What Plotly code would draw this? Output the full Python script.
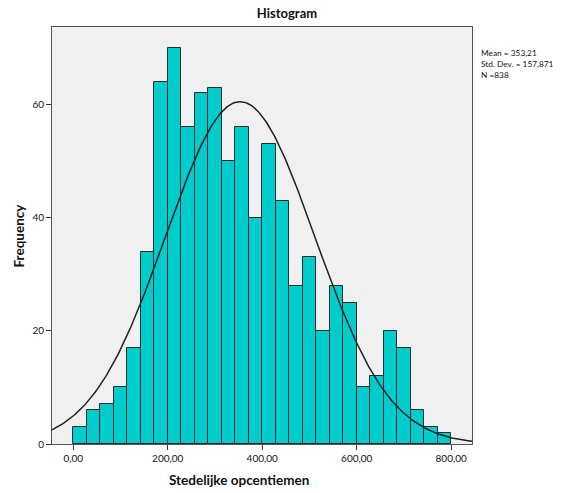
import numpy as np
import plotly.graph_objects as go

# Data
counts = [3, 6, 7, 10, 17, 34, 64, 70, 56, 62, 63, 50, 56, 40,
          53, 43, 28, 33, 20, 28, 25, 10, 12, 20, 17, 6, 3, 2]
bin_start = 0.0
bin_end = 800.0
mean_val = 353.21
std_val = 157.871
n_val = 838
x_ticks = [0, 200, 400, 600, 800]
x_tick_labels = ["0,00", "200,00", "400,00", "600,00", "800,00"]
y_ticks = [0, 20, 40, 60]

nb = len(counts)
bw = (bin_end - bin_start) / nb
centers = [bin_start + bw * (i + 0.5) for i in range(nb)]

xr = [-45, 844]
xs = np.linspace(xr[0], xr[1], 400)
ys = n_val * bw / (std_val * np.sqrt(2 * np.pi)) * np.exp(-0.5 * ((xs - mean_val) / std_val) ** 2)

fig = go.Figure()
fig.add_trace(go.Bar(x=centers, y=counts, width=bw,
                     marker=dict(color="#00CCCC", line=dict(color="#2b2b2b", width=1)),
                     hoverinfo="skip"))
fig.add_trace(go.Scatter(x=xs, y=ys, mode="lines",
                         line=dict(color="#222222", width=1.5), hoverinfo="skip"))

font = "Lato, 'Open Sans', sans-serif"
fig.update_layout(
    width=574, height=493,
    margin=dict(l=52, r=102, t=27, b=49),
    paper_bgcolor="white", plot_bgcolor="#F0F0F0",
    showlegend=False, bargap=0,
    font=dict(family=font, size=10, color="#111"),
    title=dict(text="<b>Histogram</b>", x=0.5, xanchor="center", y=1 - 13 / 493, yanchor="middle",
               font=dict(size=13, family=font, color="#111")),
)
fig.update_xaxes(range=xr, tickmode="array", tickvals=x_ticks, ticktext=x_tick_labels,
                 showgrid=False, zeroline=False, showline=True, mirror=True,
                 linecolor="#555", linewidth=1, ticks="outside", ticklen=5, tickcolor="#333",
                 tickfont=dict(size=10))
fig.update_yaxes(range=[0, 73.7], tickmode="array", tickvals=y_ticks,
                 showgrid=False, zeroline=False, showline=True, mirror=True,
                 linecolor="#555", linewidth=1, ticks="outside", ticklen=5, tickcolor="#333",
                 tickfont=dict(size=10))

fig.add_annotation(text="<b>Stedelijke opcentiemen</b>", xref="paper", yref="paper",
                   x=(239 - 52) / (472 - 52), y=-(480 - 444) / (444 - 27),
                   showarrow=False, font=dict(size=13.5, family=font), xanchor="center", yanchor="middle")
fig.add_annotation(text="<b>Frequency</b>", xref="paper", yref="paper",
                   x=-(52 - 18) / (472 - 52), y=0.5, textangle=-90,
                   showarrow=False, font=dict(size=13.5, family=font), xanchor="center", yanchor="middle")
stats_txt = "Mean = 353,21<br>Std. Dev. = 157,871<br>N =838"
fig.add_annotation(text=stats_txt, xref="paper", yref="paper",
                   x=1 + (479 - 472) / (472 - 52), y=1 - (46 - 27) / (444 - 27),
                   showarrow=False, align="left", xanchor="left", yanchor="top",
                   font=dict(size=8.3, family=font))

fig.write_html("out.html")
